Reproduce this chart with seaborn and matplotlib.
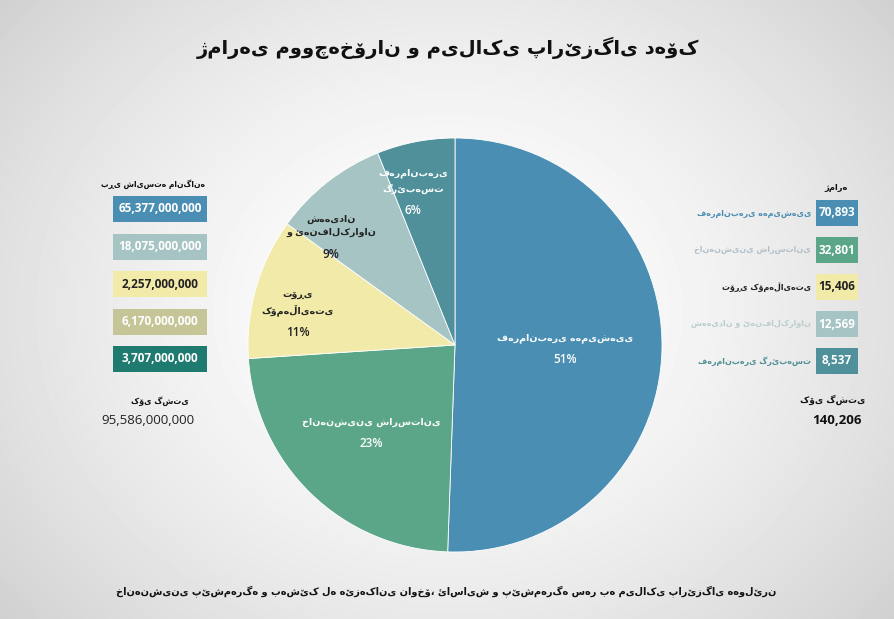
import matplotlib
matplotlib.use("Agg")
import matplotlib.pyplot as plt
import numpy as np
import seaborn as sns
from matplotlib.patches import Rectangle

# data
title = "ژمارەی مووچەخۆران و میلاکی پارێزگای دهۆک"
footnote = "خانەنشینی پێشمەرگە و بەشێک لە هێزەکانی ناوخۆ، ئاسایش و پێشمەرگە سەر بە میلاکی پارێزگای هەولێرن"
categories = [
    "فەرمانبەری هەمیشەیی",
    "خانەنشینی شارستانی",
    "تۆڕی کۆمەڵایەتی",
    "شەهیدان و ئەنفالکراوان",
    "فەرمانبەری گرێبەست",
]
pie_labels = [
    "فەرمانبەری هەمیشەیی",
    "خانەنشینی شارستانی",
    "تۆڕی\nکۆمەڵایەتی",
    "شەهیدان\nو ئەنفالکراوان",
    "فەرمانبەری\nگرێبەست",
]
counts = [70893, 32801, 15406, 12569, 8537]
count_total = 140206
salaries = [65377000000, 18075000000, 2257000000, 6170000000, 3707000000]
salary_total = 95586000000
salary_header = "بڕی شایستە مانگانە"
count_header = "ژمارە"
total_label = "کۆی گشتی"

pie_colors = ["#4a8fb3", "#5ba688", "#f1eaa9", "#a7c4c4", "#50909a"]
salary_colors = ["#4a8fb3", "#a7c4c4", "#f1eaa9", "#c6c597", "#1f7a70"]
salary_text = ["white", "white", "#222222", "white", "white"]
count_text = ["white", "white", "#222222", "white", "white"]
cat_text = ["#4a8fb3", "#b3c0ca", "#222222", "#bccdcd", "#4f8f94"]
pie_text = ["white", "white", "#222222", "#222222", "white"]
label_dist = [0.53, 0.58, 0.77, 0.78, 0.74]
label_turn = [0, 0, 7, 12, 5]

sns.set_style("white")
plt.rcParams["font.family"] = ["DejaVu Sans"]
NUM = ["Open Sans", "DejaVu Sans"]

W, H = 895, 619
fig = plt.figure(figsize=(W / 100, H / 100), dpi=100)

# radial gradient background
bg = fig.add_axes([0, 0, 1, 1], zorder=-2)
yy, xx = np.mgrid[0:H, 0:W]
rr = np.sqrt(((xx - W * 0.5) / (W * 0.62)) ** 2 + ((yy - H * 0.5) / (H * 0.75)) ** 2)
shade = np.clip(1.0 - 0.17 * rr ** 1.6, 0, 1)
bg.imshow(shade, cmap="gray", vmin=0, vmax=1, aspect="auto", extent=[0, W, H, 0])
bg.set_xlim(0, W)
bg.set_ylim(H, 0)
bg.axis("off")

# pie
r = 207
cx, cy = 455, 345
pax = fig.add_axes([(cx - r) / W, (H - cy - r) / H, 2 * r / W, 2 * r / H])
wedges, _ = pax.pie(
    counts,
    colors=pie_colors,
    startangle=90,
    counterclock=False,
    radius=1,
    wedgeprops=dict(linewidth=0.6, edgecolor="white"),
)
pax.set_xlim(-1, 1)
pax.set_ylim(-1, 1)
pax.set_aspect("equal")
pax.axis("off")
for i, w in enumerate(wedges):
    ang = np.deg2rad((w.theta1 + w.theta2) / 2 + label_turn[i])
    x = label_dist[i] * np.cos(ang)
    y = label_dist[i] * np.sin(ang)
    pct = 100 * counts[i] / sum(counts)
    pax.text(x, y + 0.02, pie_labels[i], ha="center", va="bottom",
             fontsize=6.8, fontweight="bold", color=pie_text[i], linespacing=1.6)
    pax.text(x, y - 0.03, f"{pct:.0f}%", ha="center", va="top",
             fontsize=8.5, fontweight="semibold", color=pie_text[i], family=NUM)

# overlay in pixel coordinates
ov = fig.add_axes([0, 0, 1, 1], zorder=2)
ov.set_xlim(0, W)
ov.set_ylim(H, 0)
ov.axis("off")

ov.text(448, 48, title, ha="center", va="center", fontsize=14, fontweight="bold", color="#111111")
ov.text(446, 592, footnote, ha="center", va="center", fontsize=7, fontweight="bold", color="#111111")

# left column: monthly salary
ov.text(205, 184, salary_header, ha="right", va="center", fontsize=5.5, fontweight="bold", color="#111111")
for i, v in enumerate(salaries):
    yc = 209 + i * 37.5
    ov.add_patch(Rectangle((113, yc - 13), 94, 26, facecolor=salary_colors[i], edgecolor="none"))
    ov.text(160, yc, f"{v:,}", ha="center", va="center", fontsize=8.5, fontweight="bold",
            color=salary_text[i], family=NUM)
ov.text(160, 401, total_label, ha="center", va="center", fontsize=5.8, fontweight="bold", color="#111111")
ov.text(148, 421, f"{salary_total:,}", ha="center", va="center", fontsize=9.5, color="#222222", family=NUM)

# right column: counts
ov.text(848, 187, count_header, ha="right", va="center", fontsize=6, fontweight="bold", color="#111111")
for i, v in enumerate(counts):
    yc = 213 + i * 37
    ov.add_patch(Rectangle((816, yc - 13), 42, 26, facecolor=pie_colors[i], edgecolor="none"))
    ov.text(837, yc, f"{v:,}", ha="center", va="center", fontsize=8.5, fontweight="bold",
            color=count_text[i], family=NUM)
    ov.text(811, yc, categories[i], ha="right", va="center", fontsize=5.8, fontweight="bold", color=cat_text[i])
ov.text(833, 400, total_label, ha="center", va="center", fontsize=6.5, fontweight="bold", color="#111111")
ov.text(837, 421, f"{count_total:,}", ha="center", va="center", fontsize=9.5, fontweight="bold",
        color="#111111", family=NUM)

fig.savefig("out.png", dpi=100)
